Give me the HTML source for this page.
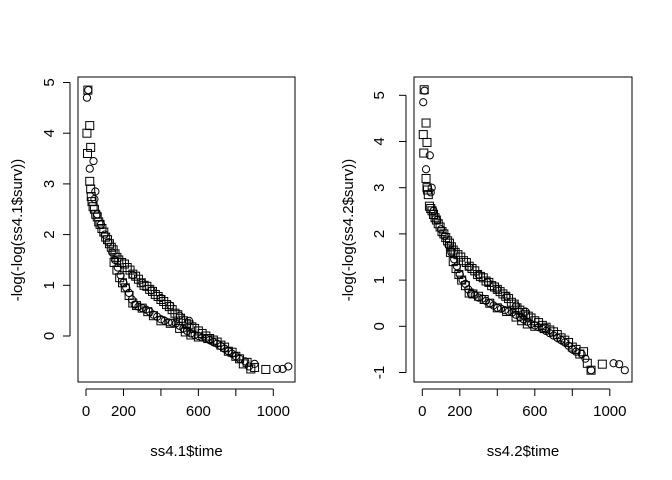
<!DOCTYPE html>
<html><head><meta charset="utf-8"><style>
html,body{margin:0;padding:0;background:#fff}
svg{display:block;font-family:"Liberation Sans",Arial,sans-serif}
</style></head><body>
<svg id="chart" width="672" height="480" viewBox="0 0 672 480" xmlns="http://www.w3.org/2000/svg"></svg>
<script>
// ---- data ----
const sqTimes = [10,20,5,25,8,20,25,28,32,38,45,52,60,68,75,85,95,105,115,125,135,145,155,165,175,190,205,220,235,250,265,280,295,310,325,340,355,370,385,400,415,430,445,460,475,490,505,520,535,550,565,580,600,620,640,660,680,700,720,740,760,780,800,820,840,860,880,900,960,
 150,165,180,195,210,230,250,270,300,330,360,400,450,500,530,560,600,650];
const sqVals1 = [4.85,4.15,4.0,3.72,3.6,3.05,2.9,2.75,2.65,2.55,2.5,2.4,2.35,2.25,2.2,2.12,2.05,1.95,1.9,1.82,1.75,1.7,1.62,1.55,1.5,1.45,1.42,1.35,1.3,1.22,1.18,1.12,1.05,1.0,0.98,0.92,0.88,0.82,0.78,0.72,0.68,0.62,0.58,0.52,0.45,0.42,0.35,0.3,0.25,0.22,0.18,0.15,0.1,0.05,0.0,-0.05,-0.08,-0.12,-0.18,-0.22,-0.3,-0.32,-0.4,-0.45,-0.55,-0.52,-0.65,-0.62,-0.66,
 1.45,1.3,1.15,1.05,0.95,0.8,0.65,0.6,0.55,0.48,0.4,0.3,0.25,0.15,0.08,0.02,-0.02,-0.05];
const sqVals2 = [5.12,4.4,4.15,3.98,3.75,3.2,3.0,2.95,2.85,2.6,2.55,2.5,2.42,2.35,2.3,2.22,2.15,2.05,2.0,1.92,1.85,1.8,1.72,1.65,1.6,1.55,1.5,1.42,1.38,1.3,1.25,1.2,1.12,1.08,1.05,0.98,0.95,0.88,0.85,0.8,0.75,0.7,0.65,0.6,0.52,0.48,0.4,0.35,0.3,0.25,0.22,0.18,0.12,0.08,0.02,-0.02,-0.08,-0.12,-0.18,-0.25,-0.3,-0.35,-0.45,-0.5,-0.6,-0.55,-0.8,-0.95,-0.82,
 1.6,1.4,1.25,1.12,1.0,0.88,0.72,0.7,0.65,0.58,0.5,0.4,0.32,0.2,0.12,0.05,0.0,-0.05];
const ciTimes = [5,12,40,20,50,45,60,80,100,120,140,155,170,185,200,215,230,245,260,280,300,320,340,360,380,400,420,440,460,480,500,520,540,560,580,600,620,640,660,680,700,720,740,760,780,800,820,850,870,900,1020,1050,1080,
 250,300,350,400,450,500,550];
const ciVals1 = [4.7,4.85,3.45,3.3,2.85,2.7,2.4,2.2,2.0,1.85,1.65,1.5,1.35,1.2,1.05,0.95,0.85,0.72,0.62,0.58,0.55,0.52,0.48,0.42,0.38,0.33,0.3,0.27,0.26,0.25,0.2,0.15,0.1,0.05,0.02,0.0,-0.03,-0.05,-0.08,-0.12,-0.15,-0.2,-0.25,-0.3,-0.35,-0.4,-0.45,-0.5,-0.6,-0.55,-0.65,-0.65,-0.6,
 1.2,1.05,0.9,0.75,0.6,0.4,0.3];
const ciVals2 = [4.85,5.1,3.7,3.4,3.0,2.9,2.5,2.3,2.1,1.95,1.75,1.6,1.45,1.3,1.12,1.0,0.92,0.8,0.7,0.68,0.62,0.6,0.55,0.5,0.45,0.4,0.38,0.35,0.32,0.3,0.25,0.2,0.15,0.1,0.05,0.02,-0.02,-0.05,-0.1,-0.15,-0.2,-0.25,-0.3,-0.35,-0.42,-0.5,-0.55,-0.6,-0.7,-0.95,-0.8,-0.82,-0.95,
 1.28,1.12,0.95,0.8,0.65,0.45,0.32];
const xTicks = [0,200,400,600,800,1000];
const xTickLabels = ["0","200","","600","","1000"];
const yTicks1 = [0,1,2,3,4,5];
const yTicks2 = [-1,0,1,2,3,4,5];

const NS = "http://www.w3.org/2000/svg";
const svg = document.getElementById("chart");
function mk(tag, attrs, parent){const e=document.createElementNS(NS,tag);for(const k in attrs)e.setAttribute(k,attrs[k]);(parent||svg).appendChild(e);return e;}

function panel(p){
  const g = mk("g",{});
  
  
  const sx = t => p.x0 + t*p.kx;
  const sy = v => p.y0 - v*p.ky;
  const box = mk("rect",{x:p.bx1,y:77,width:p.bx2-p.bx1,height:305,fill:"none",stroke:"#000","stroke-width":1},g);
  
  
  const xa = mk("g",{},g);
  
  
  mk("line",{x1:sx(xTicks[0]),x2:sx(xTicks[xTicks.length-1]),y1:389,y2:389,stroke:"#000"},xa);
  xTicks.forEach((t,i)=>{
    mk("line",{x1:sx(t),x2:sx(t),y1:389,y2:396,stroke:"#000"},xa);
    if(xTickLabels[i]){
      const tx = mk("text",{x:sx(t),y:416,"text-anchor":"middle","font-size":15,fill:"#000"},xa);
      tx.textContent = xTickLabels[i];
      
      
    }
  });
  const xt = mk("text",{x:(p.bx1+p.bx2)/2,y:456,"text-anchor":"middle","font-size":15,fill:"#000"},g);
  xt.textContent = p.xtitle;
  
  
  const ya = mk("g",{},g);
  
  
  const yl = p.yticks;
  mk("line",{x1:p.bx1-8,x2:p.bx1-8,y1:sy(yl[0]),y2:sy(yl[yl.length-1]),stroke:"#000"},ya);
  yl.forEach(v=>{
    mk("line",{x1:p.bx1-8,x2:p.bx1-15,y1:sy(v),y2:sy(v),stroke:"#000"},ya);
    const tx = mk("text",{x:p.ylx,y:sy(v),"text-anchor":"middle","font-size":15,fill:"#000",transform:`rotate(-90 ${p.ylx} ${sy(v)})`},ya);
    tx.textContent = String(v);
    
    
  });
  const yc = 230;
  const yt = mk("text",{x:p.ytx,y:yc,"text-anchor":"middle","font-size":15,fill:"#000",transform:`rotate(-90 ${p.ytx} ${yc})`},g);
  yt.textContent = p.ytitle;
  
  
  p.sqV.forEach((v,i)=>{
    const r = mk("rect",{x:sx(sqTimes[i])-4,y:sy(v)-4,width:8,height:8,fill:"none",stroke:"#000","stroke-width":1},g);
    
    
  });
  p.ciV.forEach((v,i)=>{
    const c = mk("circle",{cx:sx(ciTimes[i]),cy:sy(v),r:3.6,fill:"none",stroke:"#000","stroke-width":1},g);
    
    
  });
}
panel({name:"left-panel",bx1:78,bx2:295,x0:86,kx:0.1873,y0:336,ky:50.7,ylx:54,ytx:22,yticks:yTicks1,sqV:sqVals1,ciV:ciVals1,xtitle:"ss4.1$time",ytitle:"-log(-log(ss4.1$surv))"});
panel({name:"right-panel",bx1:414,bx2:632,x0:422.3,kx:0.1875,y0:326.3,ky:46.2,ylx:384,ytx:353,yticks:yTicks2,sqV:sqVals2,ciV:ciVals2,xtitle:"ss4.2$time",ytitle:"-log(-log(ss4.2$surv))"});
</script>
</body></html>
